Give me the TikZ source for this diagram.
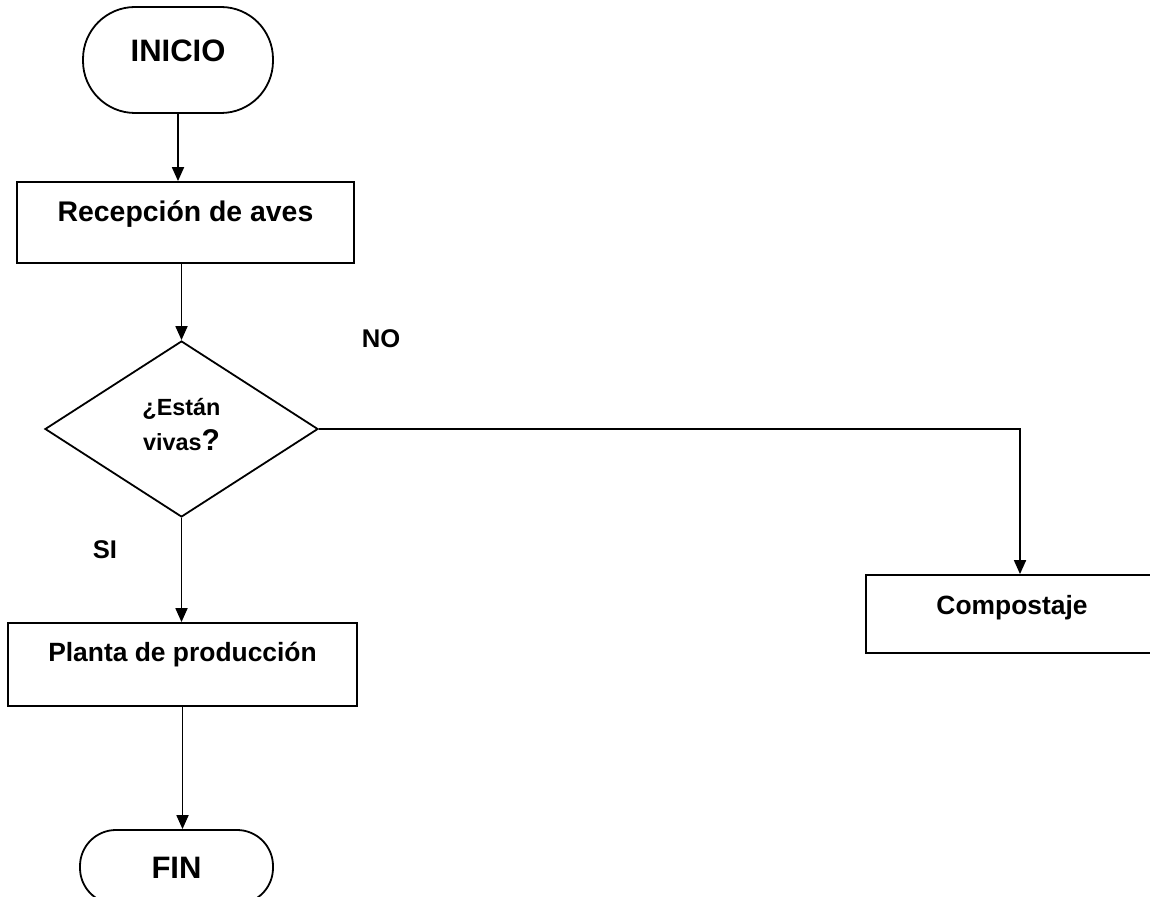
\documentclass[tikz,border=0pt]{standalone}
\usepackage{fontspec}
\setmainfont{Liberation Sans}
\usetikzlibrary{shapes.geometric,arrows.meta}
\tikzset{>={Triangle[length=7pt,width=6pt]}}
\tikzset{
  proc/.style={draw, rectangle, inner sep=0pt, font=\bfseries\fontsize{13.2pt}{16pt}\selectfont, text height=9.5pt},
  term/.style={draw, rectangle, inner sep=0pt, font=\bfseries\fontsize{15.5pt}{18pt}\selectfont, text height=11.1pt},
  decision/.style={draw, diamond, inner sep=0pt, align=center, font=\bfseries\fontsize{11.7pt}{17.5pt}\selectfont},
  answer/.style={font=\bfseries\fontsize{12.8pt}{15pt}\selectfont, inner sep=0pt},
}

\begin{document}
\begin{tikzpicture}[x=0.5pt,y=-0.5pt,line width=0.9pt]
  \useasboundingbox (0,0) rectangle (1150,897);

  % start and steps
  \node[term, rounded corners=26pt, minimum width=95pt, minimum height=53pt, text depth=10pt] (inicio) at (178,60) {INICIO};
  \node[proc, font=\bfseries\fontsize{14.2pt}{16pt}\selectfont, minimum width=168.5pt, minimum height=40.5pt, text depth=10pt] (recep) at (185.5,222.5) {Recepción de aves};
  \node[decision, minimum width=136.5pt, minimum height=88pt] (dia) at (181.5,429) {¿Están\\vivas{\fontsize{15pt}{17.5pt}\selectfont ?}\rule[-5pt]{0pt}{5pt}};
  \node[proc, minimum width=146pt, minimum height=39pt, text depth=9pt] (compost) at (1012,614) {Compostaje};
  \node[proc, minimum width=174.5pt, minimum height=41.5pt, text depth=12.5pt] (planta) at (182.5,664.5) {Planta de producción};
  \node[term, rounded corners=18pt, minimum width=96.5pt, minimum height=37pt, text depth=0pt] (fin) at (176.5,867) {FIN};

  % answers
  \node[answer] (lblno) at (381,339) {NO};
  \node[answer] (lblsi) at (105,550) {SI};

  % flow
  \draw[->] (inicio.south) -- (inicio.south |- recep.north);
  \draw[->] (dia.north |- recep.south) -- (dia.north);
  \draw[->] (dia.east) -| ([xshift=4pt]compost.north);
  \draw[->] (dia.south) -- (dia.south |- planta.north);
  \draw[->] (planta.south) -- (planta.south |- fin.north);
\end{tikzpicture}
\end{document}
